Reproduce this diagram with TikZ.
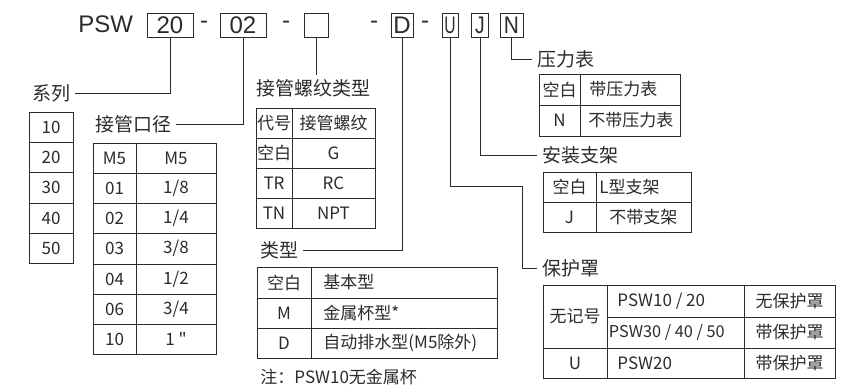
\documentclass[tikz,border=0pt]{standalone}
\usepackage{fontspec}
\usepackage{graphicx}
\setmainfont{Noto Sans CJK SC}
\newfontfamily\plainf[Ligatures=ResetAll]{Noto Sans CJK SC}
\newfontfamily\arialf{Liberation Sans}
\definecolor{ink}{HTML}{2B2B2B}
\begin{document}
\begin{tikzpicture}[x=1pt,y=-1pt, line width=0.9pt, color=ink,
  lbl/.style={inner sep=0pt, outer sep=5pt, font=\fontsize{19}{21}\selectfont, anchor=west},
  cell/.style={inner sep=0pt, font=\fontsize{17}{19}\selectfont},
  codebox/.style={draw, minimum height=24pt, inner sep=0pt, font=\arialf\fontsize{24}{26}\selectfont},
  codetext/.style={inner sep=0pt, font=\arialf\fontsize{24}{26}\selectfont}]
\useasboundingbox (0,0) rectangle (849,391);

% ---- model code line ----
\node[codetext, anchor=west] (psw) at (78,24.5) {PSW};
\node[codebox, minimum width=46pt] (b20) at (170,25) {20};
\node[codetext] (h1) at (204,25) {-};
\node[codebox, minimum width=46pt] (b02) at (243,25) {02};
\node[codetext] (h2) at (286,25) {-};
\node[codebox, minimum width=24pt] (bE) at (316,25) {};
\node[codetext] (h3) at (374,25) {-};
\node[codebox, minimum width=22pt] (bD) at (402,25) {D};
\node[codetext] (h4) at (425,25) {-};
\node[codebox, minimum width=16pt] (bU) at (450,25) {\scalebox{0.65}[1]{U}};
\node[codebox, minimum width=17pt] (bJ) at (480,25) {\scalebox{0.8}[1]{J}};
\node[codebox, minimum width=23pt] (bN) at (511.5,25) {\scalebox{0.87}[1]{N}};

% ---- labels ----
\node[lbl] (xilie) at (27,93) {系列};
\node[lbl] (jiekou) at (90,124) {接管口径};
\node[lbl] (luowen) at (251,88.5) {接管螺纹类型};
\node[lbl] (leixing) at (255,250) {类型};
\node[lbl] (yali) at (532,59.5) {压力表};
\node[lbl] (zhijia) at (537,155) {安装支架};
\node[lbl] (baohu) at (537,268.5) {保护罩};

% ---- connectors ----
\draw (b20.south) |- (xilie.east);
\draw (b02.south) |- (jiekou.east);
\draw (bE.south) -- (bE.south |- luowen.north);
\draw (bD.south) |- (leixing.east);
\coordinate (uturn) at (522,186);
\draw (bU.south) |- (uturn) |- (baohu.west);
\draw (bJ.south) |- (zhijia.west);
\draw (bN.south) |- (yali.west);

% ---- series table ----
\draw (29,112) rectangle (73,263);
\foreach \y in {142,172,203,233} \draw (29,\y) -- (73,\y);
\node[cell] (s1) at (51,127) {10};
\node[cell] (s2) at (51,157) {20};
\node[cell] (s3) at (51,187.5) {30};
\node[cell] (s4) at (51,218) {40};
\node[cell] (s5) at (51,248) {50};

% ---- port size table ----
\draw (93,143) rectangle (216,354);
\draw (136,143) -- (136,354);
\foreach \y in {173,203,233,264,294,324} \draw (93,\y) -- (216,\y);
\node[cell] (p1a) at (114.5,158) {M5};   \node[cell] (p1b) at (176,158) {M5};
\node[cell] (p2a) at (114.5,188) {01};   \node[cell] (p2b) at (176,188) {1/8};
\node[cell] (p3a) at (114.5,218) {02};   \node[cell] (p3b) at (176,218) {1/4};
\node[cell] (p4a) at (114.5,248.5) {03}; \node[cell] (p4b) at (176,248.5) {3/8};
\node[cell] (p5a) at (114.5,279) {04};   \node[cell] (p5b) at (176,279) {1/2};
\node[cell] (p6a) at (114.5,309) {06};   \node[cell] (p6b) at (176,309) {3/4};
\node[cell] (p7a) at (114.5,339) {10};   \node[cell] (p7b) at (176,339) {\plainf 1 "};

% ---- thread table ----
\draw (256,108) rectangle (375,228);
\draw (292,108) -- (292,228);
\foreach \y in {138,168,198} \draw (256,\y) -- (375,\y);
\node[cell] (t1a) at (274,123) {代号}; \node[cell] (t1b) at (333.5,123) {接管螺纹};
\node[cell] (t2a) at (274,153) {空白}; \node[cell] (t2b) at (333.5,153) {G};
\node[cell] (t3a) at (274,183) {TR};   \node[cell] (t3b) at (333.5,183) {RC};
\node[cell] (t4a) at (274,213) {TN};   \node[cell] (t4b) at (333.5,213) {NPT};

% ---- type table ----
\draw (257,267) rectangle (497,358);
\draw (311,267) -- (311,358);
\foreach \y in {298,328} \draw (257,\y) -- (497,\y);
\node[cell] (y1a) at (284,282.5) {空白}; \node[cell, anchor=west] (y1b) at (323,282.5) {基本型};
\node[cell] (y2a) at (284,313) {M};      \node[cell, anchor=west] (y2b) at (323,313) {金属杯型*};
\node[cell] (y3a) at (284,343) {D};      \node[cell, anchor=west] (y3b) at (323,343) {自动排水型(M5除外)};
\node[cell, anchor=west] (note) at (260,377) {注：PSW10无金属杯};

% ---- pressure gauge table ----
\draw (539,74) rectangle (680,136);
\draw (580,74) -- (580,136);
\draw (539,105) -- (680,105);
\node[cell] (g1a) at (559.5,89.5) {空白}; \node[cell, anchor=west] (g1b) at (589,89.5) {带压力表};
\node[cell] (g2a) at (559.5,120.5) {N};   \node[cell, anchor=west] (g2b) at (588,120.5) {不带压力表};

% ---- bracket table ----
\draw (543,172) rectangle (691,232);
\draw (596,172) -- (596,232);
\draw (543,202) -- (691,202);
\node[cell] (k1a) at (569.5,187) {空白}; \node[cell, anchor=west] (k1b) at (599,187) {L型支架};
\node[cell] (k2a) at (569.5,217) {J};    \node[cell, anchor=west] (k2b) at (609,217) {不带支架};

% ---- cover table ----
\draw (543,285) rectangle (835,378);
\draw (607,285) -- (607,378);
\draw (744,285) -- (744,378);
\draw (607,317) -- (835,317);
\draw (543,348) -- (835,348);
\node[cell] (c1a) at (575,316.5) {无记号};
\node[cell] (c3a) at (575,363) {U};
\node[cell, anchor=west] (c1b) at (617,301) {PSW10 / 20};
\node[cell, anchor=west, font=\fontsize{16.3}{18}\selectfont] (c2b) at (608.5,332.5) {PSW30 / 40 / 50};
\node[cell, anchor=west] (c3b) at (617,363) {PSW20};
\node[cell] (c1c) at (789.5,301) {无保护罩};
\node[cell] (c2c) at (789.5,332.5) {带保护罩};
\node[cell] (c3c) at (789.5,363) {带保护罩};
\end{tikzpicture}
\end{document}
